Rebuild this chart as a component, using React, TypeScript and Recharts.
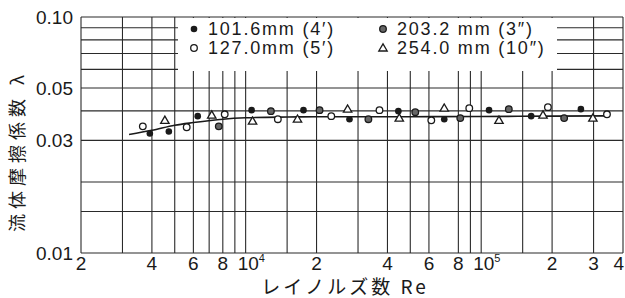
import React from 'react'
import { ScatterChart, Scatter, XAxis, YAxis, CartesianGrid, Legend } from 'recharts'

// Reynolds number grid lines (as drawn on the original log paper)
const reGrid = [2000, 3000, 4000, 5000, 6000, 7000, 8000, 9000, 10000, 15000, 20000, 30000, 40000, 50000, 60000, 80000, 90000, 100000, 150000, 200000, 300000, 400000]
const reLabelValues = [2000, 4000, 6000, 8000, 10000, 20000, 40000, 60000, 80000, 100000, 200000, 300000, 400000]
const reLabelText = ['2', '4', '6', '8', '10^4', '2', '4', '6', '8', '10^5', '2', '3', '4']

const lambdaGrid = [0.01, 0.015, 0.02, 0.03, 0.04, 0.05, 0.06, 0.07, 0.08, 0.09, 0.1]
const lambdaLabelValues = [0.01, 0.03, 0.05, 0.1]
const lambdaLabelText = ['0.01', '0.03', '0.05', '0.10']

// measured points: [Re, lambda]
const pipe1016 = [[3920, 0.0321], [4720, 0.0327], [6260, 0.038], [10600, 0.0403], [17600, 0.0403], [27600, 0.0369], [44500, 0.0399], [69700, 0.0369], [108000, 0.0403], [163000, 0.038], [265000, 0.0407]]
const pipe1270 = [[3660, 0.0344], [5620, 0.0341], [8150, 0.0387], [13700, 0.0369], [23100, 0.038], [37000, 0.0403], [61400, 0.0365], [89000, 0.0411], [192000, 0.0415], [342000, 0.0387]]
const pipe2032 = [[7690, 0.0344], [12800, 0.0399], [20600, 0.0403], [33200, 0.0369], [52500, 0.0395], [81500, 0.0373], [131000, 0.0407], [225000, 0.0373]]
const pipe2540 = [[4540, 0.0365], [7180, 0.0384], [10700, 0.0362], [16600, 0.0369], [27100, 0.0407], [44900, 0.0373], [69700, 0.0411], [119000, 0.0365], [183000, 0.0384], [298000, 0.0373]]
// mean curve
const fitCurve = [[3200, 0.0318], [4000, 0.0331], [5000, 0.0348], [6000, 0.0357], [8000, 0.0369], [10000, 0.0374], [15000, 0.0377], [20000, 0.0378], [50000, 0.0378], [100000, 0.0379], [200000, 0.038], [350000, 0.0381]]

const toRows = (pts: number[][]) => pts.map(([re, lam]) => ({ re, lam }))

const FONT = '"Liberation Sans", Arial, sans-serif'
const JP = '"Noto Sans CJK JP", sans-serif'
const INK = '#1a1a1a'

const FilledDot = (p: any) => <circle cx={p.cx} cy={p.cy} r={3.3} fill={INK} />
const OpenDot = (p: any) => <circle cx={p.cx} cy={p.cy} r={3.3} fill="#fff" stroke={INK} strokeWidth={1.3} />
const GrayDot = (p: any) => <circle cx={p.cx} cy={p.cy} r={3.3} fill="#666" stroke={INK} strokeWidth={1.3} />
const Tri = (p: any) => (
  <polygon
    points={`${p.cx},${p.cy - 4.2} ${p.cx - 4.2},${p.cy + 3} ${p.cx + 4.2},${p.cy + 3}`}
    fill="#fff"
    stroke={INK}
    strokeWidth={1.3}
  />
)
const NoDot = () => <g />

function ReTick(props: any) {
  const { x, y, payload } = props
  const i = reLabelValues.indexOf(payload.value)
  if (i < 0) return null
  const [base, sup] = reLabelText[i].split('^')
  const last = i === reLabelValues.length - 1
  if (sup) {
    return (
      <text x={x - 8} y={y + 9} textAnchor="start" fontSize={19} fontFamily={FONT} fill={INK}>
        {base}
        <tspan dy={-8} fontSize={11}>{sup}</tspan>
      </text>
    )
  }
  // the last label sits against the right edge, as on the original
  return (
    <text x={last ? x + 1 : x} y={y + 9} textAnchor={last ? 'end' : 'middle'} fontSize={19} fontFamily={FONT} fill={INK}>
      {base}
    </text>
  )
}

function LambdaTick(props: any) {
  const { x, y, payload } = props
  const i = lambdaLabelValues.indexOf(payload.value)
  if (i < 0) return null
  return (
    <text x={x} y={y} dy={7} textAnchor="end" fontSize={19} fontFamily={FONT} fill={INK}>
      {lambdaLabelText[i]}
    </text>
  )
}

const legendItems = [
  { name: '101.6mm (4′)', Mark: FilledDot, col: 0, row: 0 },
  { name: '127.0mm (5′)', Mark: OpenDot, col: 0, row: 1 },
  { name: '203.2 mm (3″)', Mark: GrayDot, col: 1, row: 0 },
  { name: '254.0 mm (10″)', Mark: Tri, col: 1, row: 1 },
]

function LegendBox() {
  return (
    <svg width={379} height={53}>
      {legendItems.map(({ name, Mark, col, row }) => {
        const mx = col === 0 ? 16 : 205
        const my = row === 0 ? 11 : 30
        return (
          <g key={name}>
            <Mark cx={mx} cy={my} />
            <text x={mx + 14} y={my + 6} fontSize={18} letterSpacing={1.8} fontFamily={FONT} fill={INK}>
              {name}
            </text>
          </g>
        )
      })}
    </svg>
  )
}

const XTitle = () => (
  <text x={345} y={294} textAnchor="middle" fontSize={19} letterSpacing={3} fontFamily={JP} fill={INK}>
    レイノルズ数  Re
  </text>
)

const YTitle = () => (
  <text
    x={0}
    y={0}
    transform="translate(24,151) rotate(-90)"
    textAnchor="middle"
    fontSize={18}
    letterSpacing={5}
    fontFamily={JP}
    fill={INK}
  >
    流体摩擦係数 λ
  </text>
)

export default function App() {
  return (
    <div style={{ position: 'absolute', left: 0, top: 0, background: '#fff' }}>
      <ScatterChart width={625} height={298} margin={{ top: 17, right: 2, bottom: 0, left: 0 }}>
        <CartesianGrid stroke="#2a2a2a" strokeWidth={1.1} />
        <XAxis
          type="number"
          dataKey="re"
          scale="log"
          domain={[2000, 400000]}
          ticks={reGrid}
          interval={0}
          height={45}
          axisLine={false}
          tickLine={false}
          tick={<ReTick />}
          label={{ content: <XTitle /> }}
        />
        <YAxis
          type="number"
          dataKey="lam"
          scale="log"
          domain={[0.01, 0.1]}
          ticks={lambdaGrid}
          interval={0}
          width={81}
          axisLine={false}
          tickLine={false}
          tick={<LambdaTick />}
          label={{ content: <YTitle /> }}
        />
        <Legend
          layout="horizontal"
          verticalAlign="middle"
          align="center"
          content={<LegendBox />}
          wrapperStyle={{ position: 'absolute', top: 18, left: 178, width: 379, height: 53, background: '#fff' }}
        />
        <Scatter
          name="fit"
          data={toRows(fitCurve)}
          line={{ stroke: INK, strokeWidth: 1.6 }}
          lineJointType="monotoneX"
          shape={<NoDot />}
          isAnimationActive={false}
          legendType="none"
        />
        <Scatter name="101.6mm" data={toRows(pipe1016)} shape={<FilledDot />} isAnimationActive={false} />
        <Scatter name="127.0mm" data={toRows(pipe1270)} shape={<OpenDot />} isAnimationActive={false} />
        <Scatter name="203.2mm" data={toRows(pipe2032)} shape={<GrayDot />} isAnimationActive={false} />
        <Scatter name="254.0mm" data={toRows(pipe2540)} shape={<Tri />} isAnimationActive={false} />
      </ScatterChart>
    </div>
  )
}
